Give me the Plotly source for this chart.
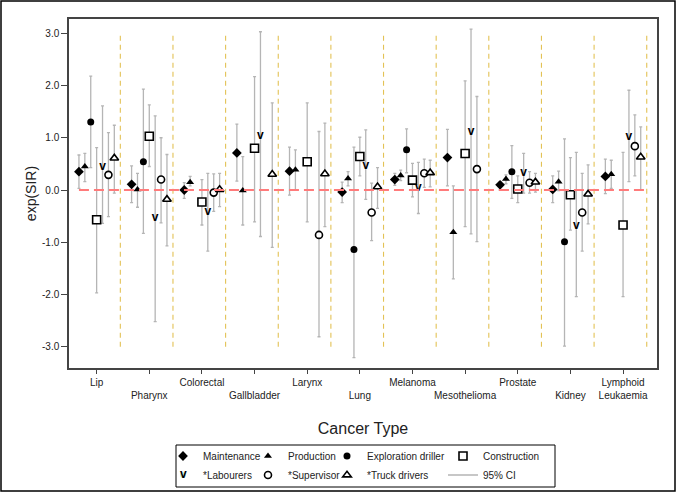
import plotly.graph_objects as go

# ---------------- data ----------------
categories = ["Lip", "Pharynx", "Colorectal", "Gallbladder", "Larynx", "Lung",
              "Melanoma", "Mesothelioma", "Prostate", "Kidney", "Lymphoid Leukaemia"]
tick_labels = ["Lip", "<br>Pharynx", "Colorectal", "<br>Gallbladder", "Larynx", "<br>Lung",
               "Melanoma", "<br>Mesothelioma", "Prostate", "<br>Kidney", "Lymphoid<br>Leukaemia"]
y_tick_values = [-3, -2, -1, 0, 1, 2, 3]
y_tick_labels = ["-3.0", "-2.0", "-1.0", "0.0", "1.0", "2.0", "3.0"]

maintenance_est = [0.35, 0.11, 0.00, 0.71, 0.36, -0.04, 0.20, 0.62, 0.10, 0.01, 0.26]
maintenance_lo = [0.03, -0.24, -0.16, 0.17, -0.10, -0.24, 0.09, 0.08, 0.00, -0.24, -0.07]
maintenance_hi = [0.67, 0.46, 0.14, 1.26, 0.82, 0.15, 0.32, 1.16, 0.16, 0.27, 0.59]

production_est = [0.45, 0.01, 0.15, -0.01, 0.39, 0.22, 0.28, -0.81, 0.21, 0.16, 0.30]
production_lo = [0.16, -0.33, 0.08, -0.67, 0.00, 0.08, 0.18, -1.70, 0.12, -0.01, 0.03]
production_hi = [0.70, 0.32, 0.26, 0.64, 0.77, 0.35, 0.38, 0.08, 0.29, 0.36, 0.57]

exploration_est = [1.30, 0.54, None, None, None, -1.14, 0.77, None, 0.35, -0.99, None]
exploration_lo = [0.43, -0.83, None, None, None, -3.21, 0.33, None, -0.16, -2.99, None]
exploration_hi = [2.18, 1.93, None, None, None, 0.82, 1.17, None, 0.85, 0.98, None]

construction_est = [-0.57, 1.03, -0.23, 0.80, 0.54, 0.64, 0.19, 0.70, 0.02, -0.09, -0.67]
construction_lo = [-1.97, 0.45, -0.67, -0.61, -0.61, 0.27, -0.13, -0.70, -0.24, -0.77, -2.04]
construction_hi = [0.81, 1.63, 0.20, 2.17, 1.67, 1.01, 0.51, 2.09, 0.27, 0.62, 0.72]

labourers_est = [0.45, -0.54, -0.43, 1.04, None, 0.46, 0.03, 1.12, 0.32, -0.68, 1.02]
labourers_lo = [-0.64, -2.52, -1.17, -0.89, None, -0.18, -0.45, -0.84, -0.06, -2.04, 0.16]
labourers_hi = [1.61, 1.42, 0.32, 3.03, None, 1.15, 0.53, 3.08, 0.70, 0.72, 1.91]

supervisor_est = [0.29, 0.20, -0.05, None, -0.86, -0.43, 0.32, 0.40, 0.14, -0.43, 0.84]
supervisor_lo = [-0.51, -0.63, -0.41, None, -2.81, -0.97, 0.05, -0.99, -0.06, -1.17, 0.27]
supervisor_hi = [1.10, 1.00, 0.31, None, 1.12, 0.13, 0.59, 1.79, 0.35, 0.32, 1.44]

truck_est = [0.61, -0.18, 0.01, 0.30, 0.31, 0.06, 0.33, None, 0.15, -0.08, 0.63]
truck_lo = [-0.06, -1.07, -0.32, -1.10, -0.70, -0.35, 0.06, None, -0.04, -0.65, 0.00]
truck_hi = [1.24, 0.68, 0.32, 1.67, 1.28, 0.43, 0.57, None, 0.32, 0.48, 1.21]

series_names = ["Maintenance", "Production", "Exploration driller", "Construction",
                "*Labourers", "*Supervisor", "*Truck drivers"]

# ---------------- layout constants ----------------
W, H = 677, 493
ML, MR, MT, MB = 69, 20, 19, 125
PW, PH = W - ML - MR, H - MT - MB
STEP = 0.112          # offset between series inside a group
SEP = 0.45            # position of separator after each group
FONT = "Arial, Liberation Sans, sans-serif"
TXT = "#222222"
CI_COLOR = "#b5b5b5"


def px_x(p):
    return (p - ML) / PW


def px_y(p):
    return (H - MB - p) / PH


series = [
    (maintenance_est, maintenance_lo, maintenance_hi, dict(symbol="diamond", size=7.5, color="black")),
    (production_est, production_lo, production_hi, dict(symbol="triangle-up", size=7, color="black")),
    (exploration_est, exploration_lo, exploration_hi, dict(symbol="circle", size=7, color="black")),
    (construction_est, construction_lo, construction_hi,
     dict(symbol="square", size=8, color="white", line=dict(color="black", width=1.6))),
    (labourers_est, labourers_lo, labourers_hi, None),
    (supervisor_est, supervisor_lo, supervisor_hi,
     dict(symbol="circle", size=7, color="white", line=dict(color="black", width=1.6))),
    (truck_est, truck_lo, truck_hi,
     dict(symbol="triangle-up", size=7.5, color="white", line=dict(color="black", width=1.6))),
]
legend_ids = ["legend", "legend2", "legend3", "legend4", "legend", "legend2", "legend3"]

n = len(categories)
fig = go.Figure()

# CI bars first (underneath all markers)
for k, (est, lo, hi, _) in enumerate(series):
    xs = [i + (k - 3) * STEP for i in range(n)]
    up = [(h - e) if e is not None else None for e, h in zip(est, hi)]
    dn = [(e - l) if e is not None else None for e, l in zip(est, lo)]
    fig.add_trace(go.Scatter(
        x=xs, y=est, mode="markers", marker=dict(size=2, opacity=0),
        error_y=dict(type="data", symmetric=False, array=up, arrayminus=dn,
                     color=CI_COLOR, thickness=1.3, width=1.5),
        showlegend=False, hoverinfo="skip"))

# markers
for k, (est, lo, hi, mk) in enumerate(series):
    xs = [i + (k - 3) * STEP for i in range(n)]
    if mk is None:
        fig.add_trace(go.Scatter(
            x=xs, y=est, mode="text", text=["v"] * n, textposition="middle center",
            textfont=dict(family=FONT, size=12, color="black", weight="bold"),
            showlegend=False, hoverinfo="skip"))
        fig.add_trace(go.Scatter(
            x=[None], y=[None], mode="markers", name=series_names[k],
            marker=dict(size=6, opacity=0), legend=legend_ids[k]))
    else:
        fig.add_trace(go.Scatter(
            x=xs, y=est, mode="markers", name=series_names[k],
            marker=mk, legend=legend_ids[k], hoverinfo="skip"))

fig.add_trace(go.Scatter(x=[None], y=[None], mode="lines", name="95% CI",
                         line=dict(color=CI_COLOR, width=1.5), legend="legend4"))

# separators and reference line
shapes = []
for i in range(n):
    shapes.append(dict(type="line", xref="x", yref="y", x0=i + SEP, x1=i + SEP,
                       y0=min(y_tick_values), y1=max(y_tick_values),
                       line=dict(color="#e3c255", width=1.1, dash="5px,4px")))
shapes.append(dict(type="line", xref="x", yref="y", x0=-3 * STEP, x1=n - 1 + SEP,
                   y0=0, y1=0, line=dict(color="#ff7b7b", width=2, dash="10px,5px")))
# legend box
shapes.append(dict(type="rect", xref="paper", yref="paper",
                   x0=px_x(176), x1=px_x(555), y0=px_y(487), y1=px_y(445),
                   line=dict(color="black", width=1), fillcolor="rgba(0,0,0,0)"))
# outer frame
shapes.append(dict(type="rect", xref="paper", yref="paper",
                   x0=px_x(1), x1=px_x(675), y0=px_y(491), y1=px_y(1),
                   line=dict(color="black", width=1.5), fillcolor="rgba(0,0,0,0)"))

leg_common = dict(orientation="v", xanchor="left", yanchor="top", bgcolor="rgba(0,0,0,0)",
                  borderwidth=0, font=dict(family=FONT, size=10, color=TXT))
legend_top = 441.5
fig.update_layout(
    legend=dict(x=px_x(163), y=px_y(legend_top), **leg_common),
    legend2=dict(x=px_x(248), y=px_y(legend_top), **leg_common),
    legend3=dict(x=px_x(327), y=px_y(legend_top), **leg_common),
    legend4=dict(x=px_x(443), y=px_y(legend_top), **leg_common),
)

annotations = [dict(xref="paper", yref="paper", x=px_x(183), y=px_y(473.5), text="<b>v</b>",
                    showarrow=False, font=dict(family=FONT, size=12, color="black"),
                    xanchor="center", yanchor="middle")]

fig.update_layout(
    width=W, height=H,
    margin=dict(l=ML, r=MR, t=MT, b=MB, autoexpand=False),
    paper_bgcolor="white", plot_bgcolor="white",
    font=dict(family=FONT, size=10, color=TXT),
    shapes=shapes, annotations=annotations,
    xaxis=dict(range=[-0.525, n - 1 + 0.645], tickvals=list(range(n)), ticktext=tick_labels,
               tickangle=0,
               showgrid=False, zeroline=False, showline=True, mirror=True,
               linecolor="#444444", linewidth=1.5, ticks="outside", ticklen=4,
               tickcolor="#444444", tickfont=dict(size=10, color=TXT),
               title=dict(text="Cancer Type", font=dict(size=16, color=TXT), standoff=23)),
    yaxis=dict(range=[-3.408, 3.274], tickvals=y_tick_values, ticktext=y_tick_labels,
               showgrid=False, zeroline=False, showline=True, mirror=True,
               linecolor="#444444", linewidth=1.5, ticks="outside", ticklen=6,
               tickcolor="#444444", tickfont=dict(size=10, color=TXT),
               title=dict(text="exp(SIR)", font=dict(size=14, color=TXT), standoff=2)),
)

fig.write_html("out.html")
